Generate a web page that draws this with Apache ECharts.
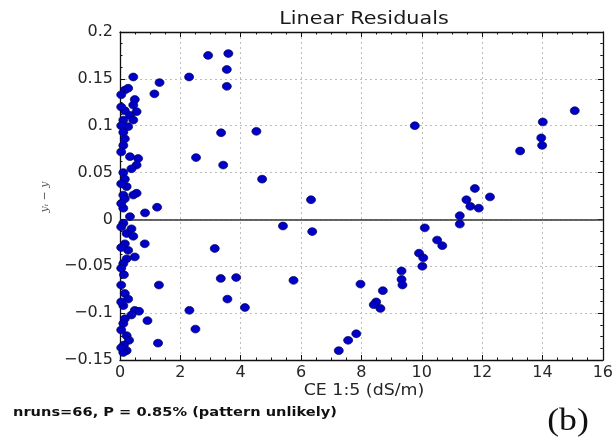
<!DOCTYPE html>
<html>
<head>
<meta charset="utf-8">
<title>Linear Residuals</title>
<script src="https://cdn.jsdelivr.net/npm/echarts@6/dist/echarts.min.js"></script>
<style>
  html, body { margin: 0; padding: 0; background: #fff; }
  #chart { width: 616px; height: 442px; }
</style>
</head>
<body>
<div id="chart"></div>
<script>
// Electrical conductivity of the 1:5 extract (dS/m) for each sample
const ceValues = [
  // samples with very low conductivity
  0.16, 0.27, 0.49, 0.44, 0.16, 0.55, 0.33, 0.11, 0.44, 0.27,
  0.11, 0.16, 0.11, 0.33, 0.60, 0.55, 0.38, 0.11, 0.16, 0.22,
  0.55, 0.11, 0.16, 0.44, 0.11, 0.33, 0.11, 0.38, 0.22, 0.44,
  0.16, 0.27, 0.49, 0.22, 0.11, 0.13, 0.16, 0.27, 0.11, 0.49,
  0.63, 0.38, 0.16, 0.11, 0.22, 0.30, 0.13, 0.22, 0.11,
  0.04, 0.04, 0.04, 0.04, 0.04, 0.04, 0.04, 0.04, 0.04, 0.04,
  0.04, 0.04, 0.04,
  // moderate conductivity
  2.92, 3.59, 3.54, 3.54, 2.29, 1.31, 1.14, 0.44, 3.35, 4.52,
  2.52, 3.42, 4.71, 6.33, 1.23, 0.83,
  5.40, 3.14, 3.34, 3.85, 5.75, 3.56, 4.14, 2.30, 2.50, 1.29,
  0.91, 1.26, 0.82, 6.37,
  // high conductivity
  9.77, 15.07, 14.01, 13.96, 13.99, 13.26, 11.76, 12.26, 11.48, 11.61,
  11.89, 11.26, 11.26, 10.10, 10.51, 10.68, 9.91, 10.05, 10.02, 9.33,
  9.33, 9.36, 7.97, 8.71, 8.49, 8.41, 8.63, 7.83, 7.56, 7.25
];

// Residual of the linear fit for the same samples
const residuals = [
  0.138, 0.140, 0.128, 0.122, 0.116, 0.115, 0.111, 0.106, 0.106, 0.099,
  0.093, 0.086, 0.079, 0.067, 0.065, 0.058, 0.054, 0.050, 0.043, 0.035,
  0.028, 0.026, 0.022, 0.026, 0.012, 0.003, -0.004, -0.010, -0.015, -0.018,
  -0.026, -0.033, -0.040, -0.042, -0.047, -0.059, -0.079, -0.085, -0.092, -0.097,
  -0.098, -0.102, -0.106, -0.111, -0.124, -0.129, -0.134, -0.140, -0.142,
  0.133, 0.120, 0.100, 0.072, 0.038, 0.017, -0.008, -0.030, -0.052, -0.070,
  -0.088, -0.118, -0.137,
  0.175, 0.177, 0.160, 0.142, 0.152, 0.146, 0.134, 0.152, 0.0925, 0.094,
  0.066, 0.058, 0.043, 0.021, 0.013, 0.007,
  -0.007, -0.031, -0.063, -0.062, -0.065, -0.085, -0.094, -0.097, -0.117, -0.070,
  -0.108, -0.132, -0.026, -0.013,
  0.100, 0.116, 0.104, 0.087, 0.079, 0.073, 0.033, 0.024, 0.021, 0.014,
  0.012, 0.004, -0.005, -0.009, -0.022, -0.028, -0.036, -0.041, -0.050, -0.055,
  -0.064, -0.070, -0.069, -0.076, -0.088, -0.091, -0.095, -0.122, -0.129, -0.140
];

// Axis ticks and their labels
const xTickValues = [0, 2, 4, 6, 8, 10, 12, 14, 16];
const xTickLabels = ['0', '2', '4', '6', '8', '10', '12', '14', '16'];
const yTickValues = [-0.15, -0.1, -0.05, 0, 0.05, 0.1, 0.15, 0.2];
const yTickLabels = ['\u22120.15', '\u22120.1', '\u22120.05', '0', '0.05', '0.1', '0.15', '0.2'];

const titleText = 'Linear Residuals';
const xAxisTitle = 'CE 1:5 (dS/m)';
const yAxisTitle = 'y\u1d62 \u2212 y';
const runsNote = 'nruns=66, P = 0.85% (pattern unlikely)';
const panelTag = '(b)';

const points = ceValues.map((x, i) => [x, residuals[i]]);

const xMin = xTickValues[0], xMax = xTickValues[xTickValues.length - 1];
const xStep = xTickValues[1] - xTickValues[0];
const yMin = yTickValues[0], yMax = yTickValues[yTickValues.length - 1];
const yStep = 0.05;

const labelFont = { fontFamily: 'DejaVu Sans', fontSize: 16, color: '#262626' };
const frameLine = { show: true, onZero: false, lineStyle: { color: '#111', width: 1.3 } };
const innerTick = { show: true, inside: true, length: 5, lineStyle: { color: '#111', width: 1 } };
const innerMinor = { show: true, splitNumber: 4, length: 2.5, lineStyle: { color: '#111', width: 1 } };
const dottedGrid = { show: true, lineStyle: { color: '#bdbdbd', width: 1, type: [2, 3] } };

function xLabel(v) {
  const i = Math.round((v - xMin) / xStep);
  return xTickLabels[i] !== undefined ? xTickLabels[i] : '';
}
function yLabel(v) {
  const i = Math.round((v - yMin) / yStep);
  return yTickLabels[i] !== undefined ? yTickLabels[i] : '';
}

function textEl(text, x, y, font, opts) {
  return Object.assign({
    type: 'text', x: x, y: y, silent: true,
    style: {
      text: text, font: font, fill: opts.fill || '#222',
      textAlign: opts.align || 'center', align: opts.align || 'center',
      textVerticalAlign: 'middle', verticalAlign: 'middle'
    }
  }, opts.transform || {});
}

const chart = echarts.init(document.getElementById('chart'), null, { renderer: 'canvas' });

chart.setOption({
  animation: false,
  backgroundColor: '#ffffff',
  grid: { left: 120, right: 9, top: 32, bottom: 82, containLabel: false },
  xAxis: [
    {
      type: 'value', min: xMin, max: xMax, interval: xStep, position: 'bottom',
      axisLine: frameLine, axisTick: innerTick,
      minorTick: innerMinor,
      splitLine: dottedGrid,
      axisLabel: Object.assign({ margin: 5, showMinLabel: true, showMaxLabel: true, formatter: xLabel }, labelFont)
    },
    {
      type: 'value', min: xMin, max: xMax, interval: xStep, position: 'top',
      axisLine: frameLine, axisTick: innerTick, minorTick: innerMinor,
      splitLine: { show: false }, axisLabel: { show: false }
    }
  ],
  yAxis: [
    {
      type: 'value', min: yMin, max: yMax, interval: yStep, position: 'left',
      axisLine: frameLine, axisTick: innerTick,
      minorTick: innerMinor,
      splitLine: dottedGrid,
      axisLabel: Object.assign({ margin: 7, showMinLabel: true, showMaxLabel: true, formatter: yLabel }, labelFont)
    },
    {
      type: 'value', min: yMin, max: yMax, interval: yStep, position: 'right',
      axisLine: frameLine, axisTick: innerTick, minorTick: innerMinor,
      splitLine: { show: false }, axisLabel: { show: false }
    }
  ],
  series: [
    {
      type: 'scatter',
      xAxisIndex: 0, yAxisIndex: 0,
      data: points,
      symbol: 'circle',
      symbolSize: [9, 7.8],
      itemStyle: { color: '#0000c8', borderColor: '#000055', borderWidth: 0.7, opacity: 1 },
      z: 3,
      markLine: {
        silent: true, symbol: 'none', animation: false,
        label: { show: false },
        lineStyle: { color: '#333', width: 1.6, type: 'solid' },
        data: [{ yAxis: 0 }],
        z: 2
      }
    }
  ],
  graphic: [
    textEl(titleText, 364, 20, '17px "DejaVu Sans"', { fill: '#1a1a1a', transform: { scaleX: 1.22 } }),
    textEl(xAxisTitle, 364, 391, '15px "DejaVu Sans"', { fill: '#262626', transform: { scaleX: 1.16 } }),
    textEl(yAxisTitle, 45, 197, 'italic 11px "DejaVu Serif"', { fill: '#555', transform: { rotation: Math.PI / 2 } }),
    textEl(runsNote, 13, 413, 'bold 11.5px "DejaVu Sans"', { fill: '#111', align: 'left', transform: { scaleX: 1.27 } }),
    textEl(panelTag, 568, 422, '31px "Liberation Serif"', { fill: '#111', transform: { scaleX: 1.15 } })
  ]
});
</script>
</body>
</html>
